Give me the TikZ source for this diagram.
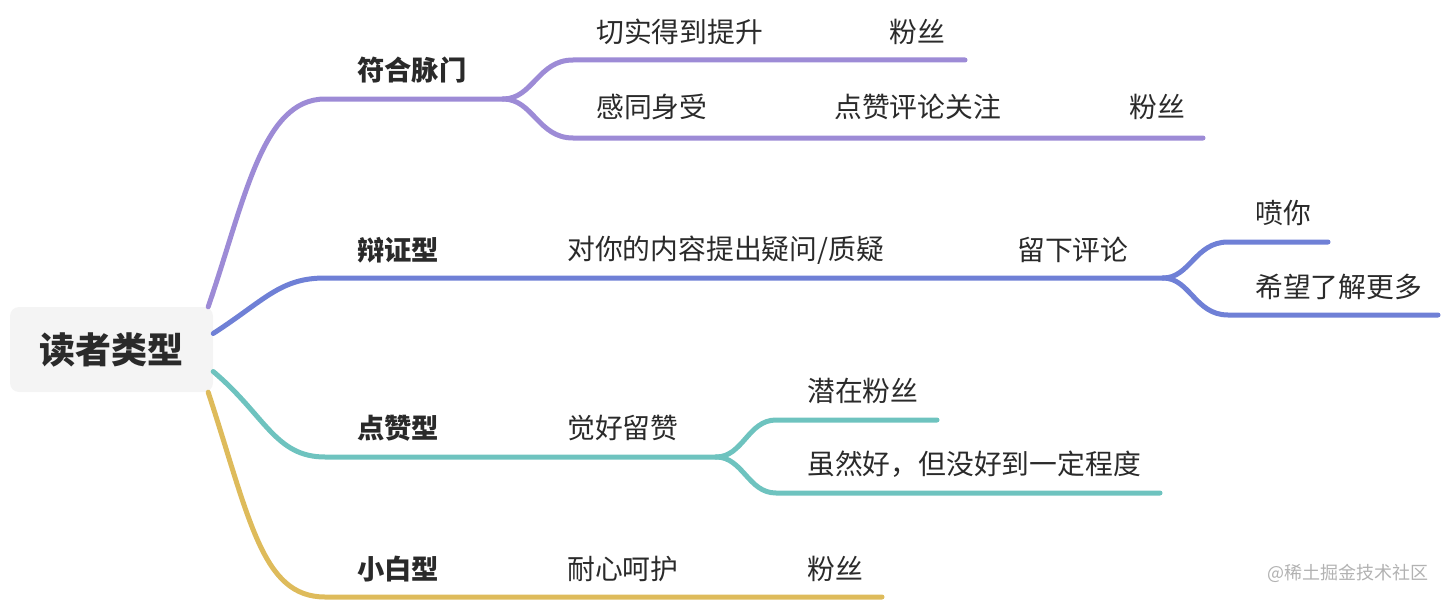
\documentclass[tikz,border=0pt]{standalone}
\usepackage{fontspec}
\setmainfont{Noto Sans CJK SC}
\definecolor{purp}{HTML}{9D8BD6}
\definecolor{blu}{HTML}{6F80D6}
\definecolor{teal2}{HTML}{6EC3BF}
\definecolor{yel}{HTML}{DEBB5B}
\definecolor{txt}{HTML}{2A2A2A}
\definecolor{rootbg}{HTML}{F4F4F4}
\definecolor{wm}{HTML}{B2B2B2}
\begin{document}
\begin{tikzpicture}[x=1pt,y=-1pt,
  lbl/.style={anchor=west,inner sep=0pt,text=txt,font=\fontsize{27.8}{30}\selectfont},
  lvl/.style={anchor=west,inner sep=0pt,text=txt,font=\fontsize{27.3}{30}\selectfont\bfseries},
  br/.style={line width=5pt,line cap=round}]
\useasboundingbox (0,0) rectangle (1448,602);
% root
\node[fill=rootbg,rounded corners=9pt,minimum width=203pt,minimum height=85pt,inner sep=0pt,
      text=txt,font=\fontsize{36}{40}\selectfont\bfseries] (root) at (111.5,349.5) {读者类型};
% junctions and ends
\coordinate (jP) at (503,99);
\coordinate (eP1) at (965,60);
\coordinate (eP2) at (1203,138);
\coordinate (jB) at (1163,278);
\coordinate (eB1) at (1328,242);
\coordinate (eB2) at (1438,315);
\coordinate (jT) at (716,457);
\coordinate (eT1) at (937,420);
\coordinate (eT2) at (1160,493);
\coordinate (eY) at (882,597);
% purple
\draw[br,purp] ([xshift=-5pt]root.north east) .. controls (245,200) and (262,99) .. (325,99) -- (jP);
\draw[br,purp] (jP) .. controls (533,99) and (538,60) .. (573,60) -- (eP1);
\draw[br,purp] (jP) .. controls (533,99) and (538,138) .. (573,138) -- (eP2);
% blue
\draw[br,blu] ([yshift=16pt]root.east) .. controls (265,300) and (280,278) .. (325,278) -- (jB);
\draw[br,blu] (jB) .. controls (1190,278) and (1195,242) .. (1228,242) -- (eB1);
\draw[br,blu] (jB) .. controls (1190,278) and (1195,315) .. (1228,315) -- (eB2);
% teal
\draw[br,teal2] ([yshift=-22pt]root.east) .. controls (265,415) and (275,457) .. (325,457) -- (jT);
\draw[br,teal2] (jT) .. controls (743,457) and (748,420) .. (776,420) -- (eT1);
\draw[br,teal2] (jT) .. controls (743,457) and (748,493) .. (776,493) -- (eT2);
% yellow
\draw[br,yel] ([xshift=-5pt]root.south east) .. controls (250,520) and (262,597) .. (325,597) -- (eY);
% labels
\node[lvl] (l1) at (357,70) {符合脉门};
\node[lbl] (a1) at (596,32) {切实得到提升};
\node[lbl] (a2) at (889,32) {粉丝};
\node[lbl] (b1) at (596,107) {感同身受};
\node[lbl] (b2) at (834,107) {点赞评论关注};
\node[lbl] (b3) at (1129,107) {粉丝};
\node[lvl] (l2) at (357,250) {辩证型};
\node[lbl] (c1) at (567,250) {对你的内容提出疑问/质疑};
\node[lbl] (c2) at (1017,250) {留下评论};
\node[lbl] (c3) at (1255,213) {喷你};
\node[lbl] (c4) at (1255,287) {希望了解更多};
\node[lvl] (l3) at (357,428) {点赞型};
\node[lbl] (d1) at (567,428) {觉好留赞};
\node[lbl] (d2) at (807,391) {潜在粉丝};
\node[lbl] (d3) at (807,464) {虽然好，但没好到一定程度};
\node[lvl] (l4) at (357,569) {小白型};
\node[lbl] (e1) at (567,569) {耐心呵护};
\node[lbl] (e2) at (807,569) {粉丝};
\node[anchor=west,inner sep=0pt,text=wm,font=\fontsize{18}{20}\selectfont] (wm) at (1267,573) {@稀土掘金技术社区};
\end{tikzpicture}
\end{document}
